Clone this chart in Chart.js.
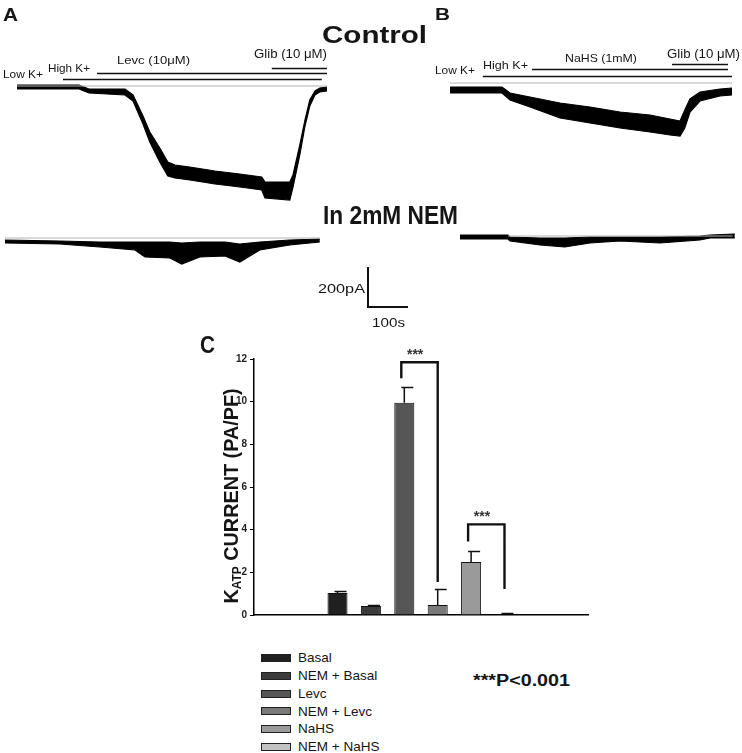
<!DOCTYPE html>
<html>
<head>
<meta charset="UTF-8">
<title>KATP currents</title>
<script src="https://cdn.jsdelivr.net/npm/chart.js@4.4.0/dist/chart.umd.min.js"></script>
<style>
    body {
        margin: 0;
        background: #fff;
    }
    #fig {
        position: relative;
        width: 742px;
        height: 753px;
        overflow: hidden;
        font-family: "Liberation Sans", Arial, sans-serif;
        color: #151515;
    }
    #traceBox {
        position: absolute;
        left: 0;
        top: 0;
        width: 742px;
        height: 340px;
    }
    #barBox {
        position: absolute;
        left: 200px;
        top: 340px;
        width: 400px;
        height: 290px;
    }
    .lbl {
        position: absolute;
        white-space: nowrap;
        line-height: 1;
        transform-origin: 0 0;
    }
    .key {
        position: absolute;
        width: 28px;
        height: 6px;
        border: 1px solid #222;
    }
</style>
</head>
<body>
<div id="fig">
    <div id="traceBox"><canvas id="traces"></canvas></div>
    <div id="barBox"><canvas id="bars"></canvas></div>
</div>

<script>
    // ---- recordings: time (s), upper / lower edge of the noisy current band (pA, 0 = grey line)
    const ctlA_t  = [0, 155, 180, 270, 290, 315, 332, 357, 377, 395, 432, 495, 557, 612, 620, 682, 690, 707, 720, 732, 745, 757, 775];
    const ctlA_hi = [5, 5, -15, -15, -45, -150, -230, -310, -380, -395, -405, -425, -440, -455, -480, -480, -445, -295, -170, -70, -25, -10, -5];
    const ctlA_lo = [-15, -15, -35, -45, -75, -190, -280, -380, -450, -460, -470, -490, -505, -520, -560, -570, -505, -345, -200, -100, -45, -30, -25];

    const nemA_t  = [0, 137, 237, 325, 350, 412, 442, 487, 550, 587, 637, 712, 787];
    const nemA_hi = [-10, -15, -20, -20, -20, -20, -25, -20, -20, -30, -20, -10, -5];
    const nemA_lo = [-25, -30, -45, -60, -95, -100, -130, -95, -90, -120, -60, -35, -20];

    const ctlB_t  = [0, 130, 150, 200, 275, 350, 425, 500, 550, 575, 587, 600, 625, 675, 705];
    const ctlB_hi = [-20, -20, -50, -70, -100, -120, -145, -160, -180, -190, -135, -80, -45, -30, -25];
    const ctlB_lo = [-50, -50, -85, -120, -175, -200, -225, -245, -260, -265, -225, -145, -90, -65, -60];

    const nemB_t  = [0, 120, 125, 200, 262, 325, 400, 500, 600, 625, 687];
    const nemB_hi = [5, 5, -5, -10, -10, -5, -5, -5, 0, 5, 10];
    const nemB_lo = [-15, -15, -25, -45, -55, -35, -25, -35, -20, -10, -10];

    // zero-current reference span (s)
    const zeroCtlA = [0, 775];
    const zeroNemA = [0, 787];
    const zeroCtlB = [0, 705];
    const zeroNemB = [120, 682];

    // solution changes (s)
    const solA_name = ['High K+', 'Levc (10μM)', 'Glib (10 μM)'];
    const solA_on   = [115, 200, 637];
    const solA_off  = [762, 775, 775];
    const solB_name = ['High K+', 'NaHS (1mM)', 'Glib (10 μM)'];
    const solB_on   = [82, 205, 555];
    const solB_off  = [705, 695, 695];

    const scaleBar_pA = 200;
    const scaleBar_s = 100;

    // ---- panel C
    const groups  = ['Basal', 'NEM + Basal', 'Levc', 'NEM + Levc', 'NaHS', 'NEM + NaHS'];
    const current = [1.03, 0.42, 9.95, 0.47, 2.48, 0.03];
    const sem     = [0.10, 0.05, 0.72, 0.73, 0.52, 0.08];
    const yTicks  = [0, 2, 4, 6, 8, 10, 12];
    const sigFrom = ['Levc', 'NaHS'];
    const sigTo   = ['NEM + Levc', 'NEM + NaHS'];
    const sigTop  = [11.85, 4.25];
    const sigFromEnd = [11.1, 3.45];
    const sigToEnd   = [1.55, 1.22];

    const groupColors = ['#202020', '#3c3c3c', '#565656', '#7a7a7a', '#9a9a9a', '#c3c3c3'];

    Chart.defaults.font.family = '"Liberation Sans", Arial, sans-serif';
    Chart.defaults.animation = false;

    // ---------- traces (A, B) ----------
    const S_PER_PX = 2.5, PA_PER_PX = 5;
    const TW = 742, TH = 340;
    // pixel position of each recording's t=0 / 0 pA
    const origins = {
        A: [17, 86], An: [5, 238], B: [450, 83], Bn: [460, 236]
    };

    const traceScales = {};
    Object.keys(origins).forEach(k => {
        const [ox, oy] = origins[k];
        traceScales['x' + k] = { type: 'linear', axis: 'x', display: false, min: -ox * S_PER_PX, max: (TW - ox) * S_PER_PX };
        traceScales['y' + k] = { type: 'linear', axis: 'y', display: false, min: -(TH - oy) * PA_PER_PX, max: oy * PA_PER_PX };
    });

    const pts = (t, v) => t.map((x, i) => ({ x: x, y: v[i] }));

    function traceSets(k, t, hi, lo, zero) {
        const ax = { xAxisID: 'x' + k, yAxisID: 'y' + k, pointRadius: 0, tension: 0 };
        return [
            Object.assign({ data: pts(zero, [0, 0]), borderColor: '#b4b4b4', borderWidth: 1, fill: false }, ax),
            Object.assign({ data: pts(t, hi), borderColor: '#000', borderWidth: 1.2, fill: false }, ax),
            Object.assign({ data: pts(t, lo), borderColor: '#000', borderWidth: 1.2, fill: '-1', backgroundColor: '#000' }, ax)
        ];
    }

    const solutionLines = {
        id: 'solutionLines',
        afterDatasetsDraw(chart) {
            const ctx = chart.ctx;
            const panels = [
                { k: 'A', on: solA_on, off: solA_off, rise: [7, 13, 18] },
                { k: 'B', on: solB_on, off: solB_off, rise: [7, 14.5, 19] }
            ];
            ctx.save();
            ctx.strokeStyle = '#111';
            ctx.lineWidth = 1.4;
            panels.forEach(p => {
                const xs = chart.scales['x' + p.k], ys = chart.scales['y' + p.k];
                const y0 = ys.getPixelForValue(0);
                p.on.forEach((t, i) => {
                    const y = Math.round(y0 - p.rise[i]) + 0.5;
                    ctx.beginPath();
                    ctx.moveTo(xs.getPixelForValue(t), y);
                    ctx.lineTo(xs.getPixelForValue(p.off[i]), y);
                    ctx.stroke();
                });
            });
            // scale bar, sized by the NEM (A) axes
            const xs = chart.scales.xAn, ys = chart.scales.yAn;
            const h = ys.getPixelForValue(0) - ys.getPixelForValue(scaleBar_pA);
            const w = xs.getPixelForValue(scaleBar_s) - xs.getPixelForValue(0);
            const cx = 368, cy = 307;
            ctx.lineWidth = 2;
            ctx.beginPath();
            ctx.moveTo(cx, cy - h);
            ctx.lineTo(cx, cy);
            ctx.lineTo(cx + w, cy);
            ctx.stroke();
            ctx.restore();
        }
    };

    new Chart(document.getElementById('traces'), {
        type: 'line',
        data: {
            datasets: [].concat(
                traceSets('A', ctlA_t, ctlA_hi, ctlA_lo, zeroCtlA),
                traceSets('An', nemA_t, nemA_hi, nemA_lo, zeroNemA),
                traceSets('B', ctlB_t, ctlB_hi, ctlB_lo, zeroCtlB),
                traceSets('Bn', nemB_t, nemB_hi, nemB_lo, zeroNemB)
            )
        },
        options: {
            responsive: true,
            maintainAspectRatio: false,
            layout: { padding: 0 },
            events: [],
            plugins: { legend: { display: false }, tooltip: { enabled: false } },
            scales: traceScales
        },
        plugins: [solutionLines]
    });

    // ---------- bar chart (C) ----------
    const slots = ['', ''].concat(groups, ['', '']);
    const slotVal = slots.map(s => (groups.indexOf(s) >= 0 ? current[groups.indexOf(s)] : null));
    const slotCol = slots.map(s => (groups.indexOf(s) >= 0 ? groupColors[groups.indexOf(s)] : 'transparent'));

    const errAndSig = {
        id: 'errAndSig',
        afterDatasetsDraw(chart) {
            const ctx = chart.ctx;
            const ys = chart.scales.y;
            const bars = chart.getDatasetMeta(0).data;
            const barX = name => bars[slots.indexOf(name)].x;
            ctx.save();
            ctx.strokeStyle = '#111';
            ctx.lineWidth = 1.5;
            groups.forEach((g, i) => {
                const x = barX(g);
                const yb = ys.getPixelForValue(current[i]);
                const ye = Math.round(ys.getPixelForValue(current[i] + sem[i])) + 0.5;
                ctx.beginPath();
                ctx.moveTo(x, yb);
                ctx.lineTo(x, ye);
                ctx.moveTo(x - 3, ye);
                ctx.lineTo(x + 9, ye);
                ctx.stroke();
            });
            ctx.lineWidth = 2.4;
            ctx.lineJoin = 'miter';
            sigFrom.forEach((a, i) => {
                const x1 = barX(a) - 3, x2 = barX(sigTo[i]);
                const yt = ys.getPixelForValue(sigTop[i]);
                ctx.beginPath();
                ctx.moveTo(x1, ys.getPixelForValue(sigFromEnd[i]));
                ctx.lineTo(x1, yt);
                ctx.lineTo(x2, yt);
                ctx.lineTo(x2, ys.getPixelForValue(sigToEnd[i]));
                ctx.stroke();
                ctx.fillStyle = '#333';
                ctx.font = 'bold 14px "Liberation Sans", Arial';
                ctx.textAlign = 'center';
                ctx.textBaseline = 'alphabetic';
                ctx.fillText('***', x1 + 0.38 * (x2 - x1), yt - 3);
            });
            ctx.restore();
        }
    };

    new Chart(document.getElementById('bars'), {
        type: 'bar',
        data: {
            labels: slots,
            datasets: [{
                data: slotVal,
                backgroundColor: slotCol,
                borderColor: '#111',
                borderWidth: 1,
                barPercentage: 0.6,
                categoryPercentage: 1
            }]
        },
        options: {
            responsive: true,
            maintainAspectRatio: false,
            events: [],
            layout: { padding: { top: 19, right: 12, bottom: 0, left: 0 } },
            plugins: { legend: { display: false }, tooltip: { enabled: false } },
            scales: {
                x: {
                    ticks: { display: false },
                    grid: { display: false },
                    border: { display: true, color: '#000', width: 1.5 },
                    afterFit: s => { s.height = 15; }
                },
                y: {
                    min: yTicks[0],
                    max: yTicks[yTicks.length - 1],
                    afterBuildTicks: s => { s.ticks = yTicks.map(v => ({ value: v })); },
                    ticks: { color: '#222', padding: 3, font: { size: 10, weight: 'bold' } },
                    grid: { display: true, drawOnChartArea: false, drawTicks: true, tickLength: 4, color: '#000' },
                    border: { display: true, color: '#000', width: 1.5 },
                    afterFit: s => { s.width = 54; }
                }
            }
        },
        plugins: [errAndSig]
    });

    // ---------- text ----------
    const fig = document.getElementById('fig');
    const meas = document.createElement('canvas').getContext('2d');

    function placeText(str, left, capTop, capH, width, bold) {
        const size = capH / 0.716;
        const font = (bold ? 'bold ' : '') + size.toFixed(2) + 'px "Liberation Sans", Arial';
        meas.font = font;
        const natural = meas.measureText(str).width;
        const el = document.createElement('div');
        el.className = 'lbl';
        el.textContent = str;
        el.style.font = font;
        el.style.left = left + 'px';
        el.style.top = (capTop - 0.1305 * size) + 'px';
        el.style.transform = 'scaleX(' + (width / natural).toFixed(3) + ')';
        fig.appendChild(el);
    }

    placeText('A', 3, 7, 13, 15, true);
    placeText('B', 435, 7, 12, 15, true);
    placeText('Control', 322, 25, 17, 105, true);
    placeText('In 2mM NEM', 323, 204, 18, 135, true);
    placeText('Low K+', 3, 69, 8, 40, false);
    placeText(solA_name[0], 48, 63, 8, 42, false);
    placeText(solA_name[1], 117, 55, 8, 73, false);
    placeText(solA_name[2], 254, 49, 8.5, 73, false);
    placeText('Low K+', 435, 65, 8, 40, false);
    placeText(solB_name[0], 483, 60, 8, 45, false);
    placeText(solB_name[1], 565, 53, 8, 72, false);
    placeText(solB_name[2], 667, 49, 8.5, 73, false);
    placeText(scaleBar_pA + 'pA', 318, 284, 9, 47, false);
    placeText(scaleBar_s + 's', 372, 318, 9, 33, false);
    placeText('C', 200, 335, 17, 15, true);
    placeText('***P<0.001', 473, 673, 12, 97, true);

    // y-axis title of panel C (rotated, with subscript)
    const yt = document.createElement('div');
    yt.className = 'lbl';
    yt.style.font = 'bold 20px "Liberation Sans", Arial';
    yt.style.left = '0px';
    yt.style.top = '0px';
    yt.innerHTML = 'K<span style="font-size:12px;vertical-align:-3px">ATP</span> CURRENT (PA/PF)';
    fig.appendChild(yt);
    const ytw = yt.offsetWidth, yth = yt.offsetHeight;
    yt.style.transform = 'translate(232px, 496px) rotate(-90deg) scaleX(' + (215 / ytw).toFixed(3) + ') translate(' + (-ytw / 2) + 'px,' + (-yth / 2) + 'px)';

    // legend of panel C
    groups.forEach((g, i) => {
        const capTop = 652 + i * 17.8;
        const key = document.createElement('div');
        key.className = 'key';
        key.style.left = '261px';
        key.style.top = (capTop + 2) + 'px';
        key.style.background = groupColors[i];
        fig.appendChild(key);
        const el = document.createElement('div');
        el.className = 'lbl';
        el.textContent = g;
        el.style.font = '13.5px "Liberation Sans", Arial';
        el.style.left = '298px';
        el.style.top = (capTop - 0.1305 * 13.5) + 'px';
        fig.appendChild(el);
    });
</script>
</body>
</html>
